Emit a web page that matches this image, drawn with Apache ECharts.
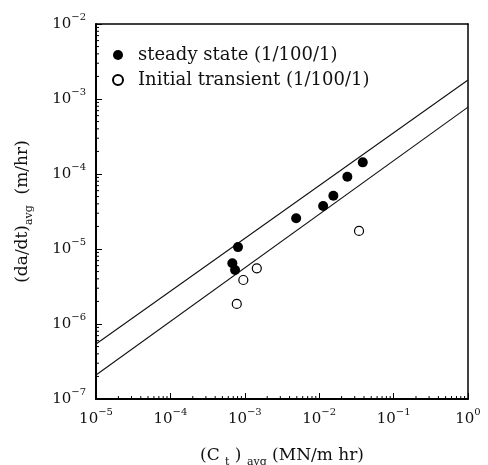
<!DOCTYPE html>
<html>
<head>
<meta charset="utf-8">
<script src="https://cdn.jsdelivr.net/npm/echarts@6/dist/echarts.min.js"></script>
<style>
  html, body { margin: 0; padding: 0; background: #fff; }
  #chart { width: 488px; height: 465px; }
</style>
</head>
<body>
<div id="chart"></div>
<script>
// values
const steadyX = [8.1e-4, 6.8e-4, 7.4e-4, 4.9e-3, 1.13e-2, 1.55e-2, 2.39e-2, 3.85e-2];
const steadyY = [1.06e-5, 6.45e-6, 5.25e-6, 2.57e-5, 3.74e-5, 5.14e-5, 9.2e-5, 1.43e-4];
const transientX = [7.8e-4, 9.55e-4, 1.45e-3, 3.43e-2];
const transientY = [1.85e-6, 3.86e-6, 5.53e-6, 1.74e-5];
// two scatter band lines (start at 1e-5, end at 1e0)
const bandX = [1e-5, 1];
const upperY = [5.4e-7, 1.79e-3];
const lowerY = [2.09e-7, 7.8e-4];
// axis decades and minor tick multipliers
const xDecades = [-5, -4, -3, -2, -1, 0];
const yDecades = [-7, -6, -5, -4, -3, -2];
const minorMult = [2, 3, 4, 5, 6, 7, 8, 9];

const FONT = 'DejaVu Serif';
const xMin = Math.pow(10, xDecades[0]), xMax = Math.pow(10, xDecades[xDecades.length - 1]);
const yMin = Math.pow(10, yDecades[0]), yMax = Math.pow(10, yDecades[yDecades.length - 1]);

const xMinor = [];
xDecades.slice(0, -1).forEach(d => minorMult.forEach(m => xMinor.push([m * Math.pow(10, d), yMin])));
const yMinor = [];
yDecades.slice(0, -1).forEach(d => minorMult.forEach(m => yMinor.push([xMin, m * Math.pow(10, d)])));

const zip = (a, b) => a.map((v, i) => [v, b[i]]);

const powLabel = (v) => {
    const e = Math.round(Math.log10(v));
    return '{b|10}{s|' + (e < 0 ? '\u2212' + (-e) : e) + '}';
};
const labelRich = {
    b: { fontFamily: FONT, fontSize: 15, lineHeight: 24, color: '#111' },
    s: { fontFamily: FONT, fontSize: 10, lineHeight: 12, verticalAlign: 'top', color: '#111' }
};
const titleStyle = {
    fontFamily: FONT, fontSize: 17, color: '#111', lineHeight: 24,
    rich: { sub: { fontFamily: FONT, fontSize: 11, lineHeight: 12, verticalAlign: 'bottom', color: '#111' } }
};

const chart = echarts.init(document.getElementById('chart'));
chart.setOption({
    animation: false,
    backgroundColor: '#fff',
    grid: { left: 96, right: 20, top: 24, bottom: 66, outerBoundsMode: 'none', containLabel: false },
    legend: {
        orient: 'vertical',
        left: 107,
        top: 41,
        itemWidth: 30,
        itemHeight: 10,
        itemGap: 7,
        textStyle: { fontFamily: FONT, fontSize: 18, color: '#111' },
        data: ['steady state (1/100/1)', 'Initial transient (1/100/1)']
    },
    xAxis: [{
        type: 'log', logBase: 10, min: xMin, max: xMax,
        name: '(C {sub|t} ) {sub|avg} (MN/m hr)',
        nameLocation: 'middle', nameGap: 45,
        nameTextStyle: titleStyle,
        axisLine: { show: true, lineStyle: { color: '#000', width: 2 } },
        axisTick: { show: true, inside: true, length: 6, lineStyle: { color: '#000' } },
        splitLine: { show: false },
        axisLabel: { margin: 8, formatter: powLabel, rich: labelRich }
    }, {
        type: 'log', logBase: 10, min: xMin, max: xMax, position: 'top',
        axisLine: { show: true, lineStyle: { color: '#000', width: 1.5 } },
        axisTick: { show: false }, axisLabel: { show: false }, splitLine: { show: false }
    }],
    yAxis: [{
        type: 'log', logBase: 10, min: yMin, max: yMax,
        name: '(da/dt){sub|avg}  (m/hr)',
        nameLocation: 'middle', nameGap: 61, nameRotate: 90,
        nameTextStyle: titleStyle,
        axisLine: { show: true, lineStyle: { color: '#000', width: 2 } },
        axisTick: { show: true, inside: true, length: 6, lineStyle: { color: '#000' } },
        splitLine: { show: false },
        axisLabel: { margin: 10, formatter: powLabel, rich: labelRich }
    }, {
        type: 'log', logBase: 10, min: yMin, max: yMax, position: 'right',
        axisLine: { show: true, lineStyle: { color: '#000', width: 1.5 } },
        axisTick: { show: false }, axisLabel: { show: false }, splitLine: { show: false }
    }],
    series: [
        {
            name: 'upper', type: 'line', data: zip(bandX, upperY),
            showSymbol: false, silent: true,
            lineStyle: { color: '#111', width: 1.1 }
        },
        {
            name: 'lower', type: 'line', data: zip(bandX, lowerY),
            showSymbol: false, silent: true,
            lineStyle: { color: '#111', width: 1.1 }
        },
        {
            name: 'steady state (1/100/1)', type: 'scatter',
            data: zip(steadyX, steadyY), symbol: 'circle', symbolSize: 10,
            itemStyle: { color: '#000', opacity: 1 }, z: 5
        },
        {
            name: 'Initial transient (1/100/1)', type: 'scatter',
            data: zip(transientX, transientY), symbol: 'circle', symbolSize: 9,
            itemStyle: { color: '#fff', borderColor: '#000', borderWidth: 1.2, opacity: 1 }, z: 5
        },
        {
            // minor ticks on the bottom axis
            type: 'custom', silent: true, clip: false, data: xMinor,
            renderItem: (params, api) => {
                const p = api.coord([api.value(0), api.value(1)]);
                return { type: 'line', shape: { x1: p[0], y1: p[1], x2: p[0], y2: p[1] - 3 }, style: { stroke: '#000', lineWidth: 1 } };
            }
        },
        {
            // minor ticks on the left axis
            type: 'custom', silent: true, clip: false, data: yMinor,
            renderItem: (params, api) => {
                const p = api.coord([api.value(0), api.value(1)]);
                return { type: 'line', shape: { x1: p[0], y1: p[1], x2: p[0] + 3, y2: p[1] }, style: { stroke: '#000', lineWidth: 1 } };
            }
        }
    ]
});
</script>
</body>
</html>
